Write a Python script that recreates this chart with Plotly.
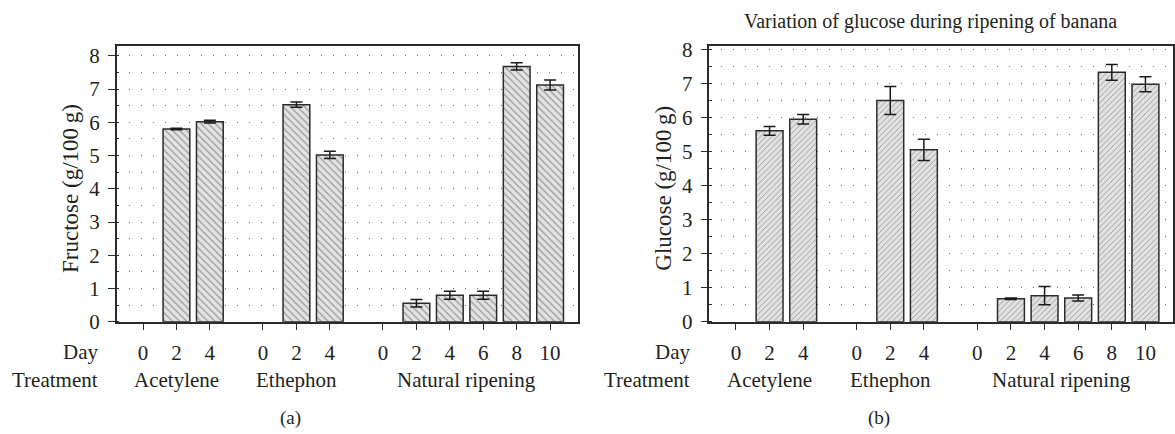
import plotly.graph_objects as go

W, H = 1175, 434

treatments = ["Acetylene", "Ethephon", "Natural ripening"]
days = [[0, 2, 4], [0, 2, 4], [0, 2, 4, 6, 8, 10]]

fructose = [None, 5.80, 6.02, None, 6.53, 5.02, None, 0.56, 0.80, 0.80, 7.68, 7.12]
fructose_err = [0, 0.02, 0.04, 0, 0.08, 0.11, 0, 0.11, 0.12, 0.12, 0.11, 0.15]

glucose = [None, 5.62, 5.96, None, 6.51, 5.06, None, 0.68, 0.77, 0.70, 7.34, 6.99]
glucose_err = [0, 0.13, 0.14, 0, 0.41, 0.31, 0, 0.02, 0.27, 0.09, 0.23, 0.22]

y_label_a = "Fructose (g/100\u2009g)"
y_label_b = "Glucose (g/100\u2009g)"
title_b = "Variation of glucose during ripening of banana"

GAP = 0.59  # extra space between treatment groups (in bar slots)

xpos, ticktext, centers = [], [], []
k = 0
for g, dl in enumerate(days):
    start = k + GAP * g
    pos = [start + i for i in range(len(dl))]
    xpos += pos
    ticktext += [str(d) for d in dl]
    centers.append((pos[0] + pos[-1]) / 2)
    k += len(dl)

FONT = "Liberation Serif"
TXT = "#231f20"
LINE = "#2b2b2b"
FS = 21

fig = go.Figure()

panels = [
    dict(vals=fructose, err=fructose_err, shape="\\", size=5, xa="x", ya="y",
         dom=(116.7, 578), yr=8.29, ylab=y_label_a, panel="(a)", pcx=291),
    dict(vals=glucose, err=glucose_err, shape="/", size=4, xa="x2", ya="y2",
         dom=(710, 1174), yr=8.11, ylab=y_label_b, panel="(b)", pcx=880),
]

top_px, bot_px = 40, 329
ydom = [1 - bot_px / H, 1 - top_px / H]

layout = dict(
    width=W, height=H, margin=dict(l=0, r=0, t=0, b=0),
    paper_bgcolor="white", plot_bgcolor="white", showlegend=False,
    font=dict(family=FONT, size=FS, color=TXT),
)
annotations = []
DY = 8  # annotation vertical correction

for i, p in enumerate(panels):
    fig.add_trace(go.Bar(
        x=xpos, y=p["vals"], width=0.8, xaxis=p["xa"], yaxis=p["ya"],
        marker=dict(color="#e2e2e2",
                    line=dict(color=LINE, width=1.5),
                    pattern=dict(shape=p["shape"], size=p["size"], solidity=0.22,
                                 fgcolor="#444444", bgcolor="#e2e2e2")),
        error_y=dict(type="data", array=p["err"], visible=True,
                     color="#1a1a1a", thickness=1.5, width=6),
    ))
    sfx = "" if i == 0 else "2"
    l, r = p["dom"]
    layout["xaxis" + sfx] = dict(
        domain=[l / W, r / W], range=[-0.79, 13.0], anchor="y" + sfx,
        tickmode="array", tickvals=xpos, ticktext=ticktext,
        ticks="outside", ticklen=6, tickwidth=1, tickcolor=LINE,
        showline=True, linecolor=LINE, linewidth=1.5, mirror=True,
        showgrid=False, zeroline=False, ticklabelstandoff=5,
        tickfont=dict(family=FONT, size=FS, color=TXT),
    )
    layout["yaxis" + sfx] = dict(
        domain=ydom, range=[0, p["yr"]], anchor="x" + sfx,
        tickmode="linear", tick0=0, dtick=1,
        ticks="outside", ticklen=7, tickwidth=1, tickcolor=LINE,
        showline=True, linecolor=LINE, linewidth=1.5, mirror=True,
        showgrid=True, gridcolor="#6a6a6a", gridwidth=1, griddash="1px,11px",
        zeroline=False, ticklabelstandoff=4,
        tickfont=dict(family=FONT, size=FS, color=TXT),
        minor=dict(dtick=0.5, tick0=0, ticks="inside", ticklen=3, tickcolor=LINE,
                   showgrid=True, gridcolor="#6a6a6a", gridwidth=1,
                   griddash="1px,11px"),
    )
    for name, c in zip(treatments, centers):
        annotations.append(dict(x=c, y=1 - (382 + DY) / H, xref="x" + sfx, yref="paper",
                                text=name, showarrow=False, xanchor="center",
                                yanchor="middle", font=dict(size=FS)))
    annotations.append(dict(x=(l - 17) / W, y=1 - (353 + DY) / H, xref="paper", yref="paper",
                            text="Day", showarrow=False, xanchor="right",
                            yanchor="middle", font=dict(size=FS)))
    annotations.append(dict(x=(l - 17) / W, y=1 - (382 + DY) / H, xref="paper", yref="paper",
                            text="Treatment", showarrow=False, xanchor="right",
                            yanchor="middle", font=dict(size=FS)))
    annotations.append(dict(x=(l - 46) / W, y=1 - 189 / H,
                            xref="paper", yref="paper", text=p["ylab"], textangle=-90,
                            showarrow=False, xanchor="center", yanchor="middle",
                            font=dict(size=23)))
    annotations.append(dict(x=p["pcx"] / W, y=1 - (422 + DY) / H, xref="paper", yref="paper",
                            text=p["panel"], showarrow=False, xanchor="center",
                            yanchor="middle", font=dict(size=19)))

annotations.append(dict(x=743 / W, y=1 - 14 / H, xref="paper", yref="paper",
                        text=title_b, showarrow=False, xanchor="left",
                        yanchor="middle", font=dict(size=20)))

layout["annotations"] = annotations
fig.update_layout(**layout)
fig.write_html("out.html")
